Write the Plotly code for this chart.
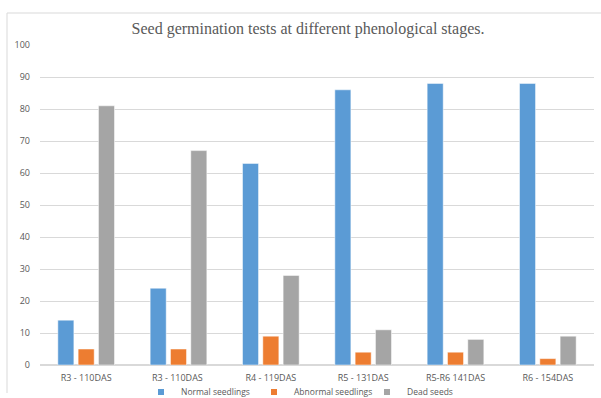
import plotly.graph_objects as go

categories = ["R3 - 110DAS", "R3 - 110DAS ", "R4 - 119DAS", "R5 - 131DAS", "R5-R6 141DAS", "R6 - 154DAS"]
normal = [14, 24, 63, 86, 88, 88]
abnormal = [5, 5, 9, 4, 4, 2]
dead = [81, 67, 28, 11, 8, 9]
y_ticks = [0, 10, 20, 30, 40, 50, 60, 70, 80, 90, 100]
series_names = ["Normal seedlings", "Abnormal seedlings", "Dead seeds"]
colors = ["#5B9BD5", "#ED7D31", "#A5A5A5"]

fig = go.Figure()
for name, vals, col in zip(series_names, [normal, abnormal, dead], colors):
    fig.add_bar(x=categories, y=vals, name=name, showlegend=False,
                marker=dict(color=col, line=dict(color="#FFFFFF", width=0.5)))
for name, col in zip(series_names, colors):
    fig.add_scatter(x=[None], y=[None], mode="markers", name=name,
                    marker=dict(symbol="square", size=6, color=col))

L, R, T, B = 40, 7, 45, 33
W, H = 601, 398
pw, ph = W - L - R, H - T - B

def px_x(p):
    return (p - L) / pw

def px_y(p):
    return (H - B - p) / ph

fig.update_layout(
    width=W, height=H,
    margin=dict(l=L, r=R, t=T, b=B, autoexpand=False),
    paper_bgcolor="white", plot_bgcolor="white",
    barmode="group", bargap=0.34, bargroupgap=0.21,
    title=dict(text="Seed germination tests at different phenological stages.",
               x=px_x(308), xanchor="center", xref="paper", y=1 - 28 / H, yanchor="middle",
               font=dict(family="Liberation Serif, Times New Roman, serif", size=16, color="#595959")),
    font=dict(family="Open Sans, Liberation Sans, sans-serif", size=9, color="#595959"),
    xaxis=dict(showgrid=False, showline=False, ticks="", tickfont=dict(size=9, color="#595959"),
               ticklabelstandoff=6),
    yaxis=dict(range=[0, 100], tickvals=y_ticks, showgrid=True, gridcolor="#D9D9D9", gridwidth=1,
               zeroline=True, zerolinecolor="#D9D9D9", showline=False, ticks="",
               tickfont=dict(size=9, color="#595959"), ticklabelstandoff=9),
    legend=dict(orientation="h", x=px_x(141), xanchor="left", y=px_y(392), yanchor="middle",
                font=dict(size=8.5, color="#595959"), itemwidth=30, tracegroupgap=0,
                entrywidth=68, entrywidthmode="pixels", bgcolor="rgba(0,0,0,0)"),
    showlegend=True,
    shapes=[
        dict(type="line", xref="paper", yref="paper", x0=px_x(7), x1=px_x(601), y0=px_y(13), y1=px_y(13),
             line=dict(color="#D9D9D9", width=1)),
        dict(type="line", xref="paper", yref="paper", x0=px_x(7), x1=px_x(7), y0=px_y(13), y1=px_y(393),
             line=dict(color="#D9D9D9", width=1)),
    ],
)

fig.write_html("out.html", config={"displayModeBar": False},
               post_script="document.body.style.margin='0';document.body.style.overflow='hidden';")
